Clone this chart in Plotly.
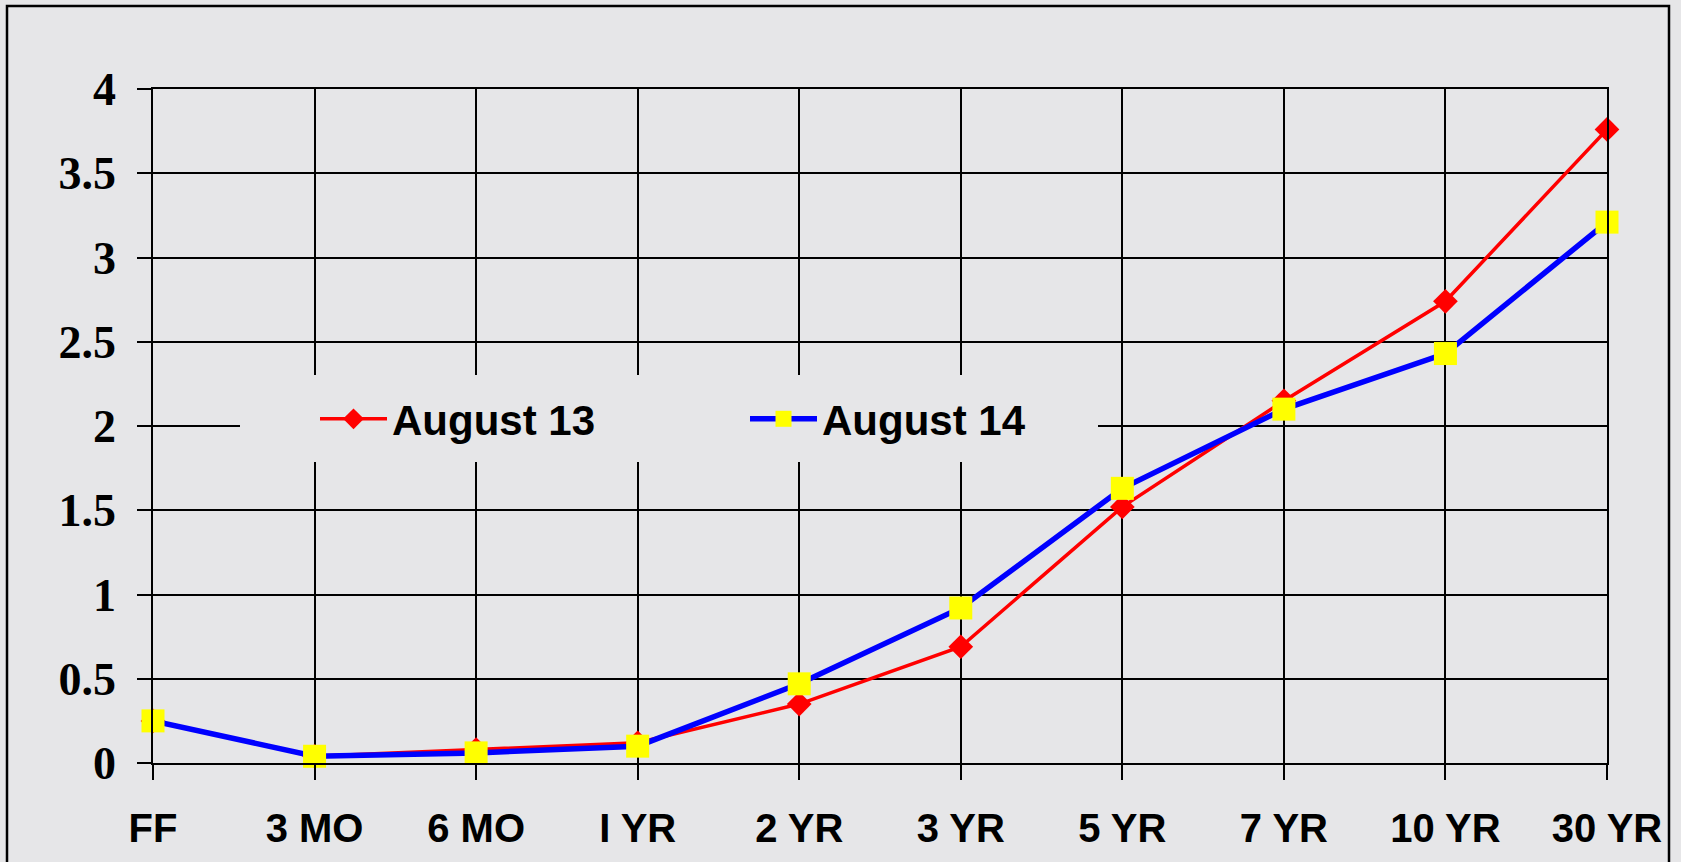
import plotly.graph_objects as go

# ---- data ----
maturities = ["FF", "3 MO", "6 MO", "I YR", "2 YR", "3 YR", "5 YR", "7 YR", "10 YR", "30 YR"]
aug13 = [0.25, 0.04, 0.08, 0.12, 0.35, 0.69, 1.52, 2.15, 2.74, 3.76]
aug14 = [0.25, 0.04, 0.06, 0.10, 0.47, 0.92, 1.63, 2.10, 2.43, 3.21]
y_ticks = [0, 0.5, 1, 1.5, 2, 2.5, 3, 3.5, 4]
y_tick_text = ["0", "0.5", "1", "1.5", "2", "2.5", "3", "3.5", "4"]
series_names = ["August 13", "August 14"]

BG = "#e6e6e8"

fig = go.Figure()
fig.add_trace(go.Scatter(
    x=maturities, y=aug13, name=series_names[0], mode="lines+markers",
    line=dict(color="#ff0000", width=3.5),
    marker=dict(symbol="diamond", size=19, color="#ff0000", line=dict(width=0)),
    cliponaxis=False,
))
fig.add_trace(go.Scatter(
    x=maturities, y=aug14, name=series_names[1], mode="lines+markers",
    line=dict(color="#0000ff", width=5.5),
    marker=dict(symbol="square", size=23, color="#ffff00", line=dict(width=0)),
    cliponaxis=False,
))

W, H = 1681, 862
L, R, T, B = 153, 1681 - 1607, 89, 862 - 763
pw, ph = W - L - R, H - T - B

def px(x):
    return (x - L) / pw

def py(y):
    return (H - B - y) / ph

shapes = [
    # legend mask box (hides gridlines behind the legend)
    dict(type="rect", xref="paper", yref="paper", layer="above",
         x0=px(240), x1=px(1098), y0=py(462), y1=py(375),
         fillcolor=BG, line=dict(width=0)),
    # outer frame
    dict(type="rect", xref="paper", yref="paper", layer="above",
         x0=px(7), x1=px(1669), y0=py(900), y1=py(6),
         fillcolor="rgba(0,0,0,0)", line=dict(color="#000", width=2.5)),
]

fig.update_layout(
    width=W, height=H,
    margin=dict(l=L, r=R, t=T, b=B, pad=0),
    paper_bgcolor=BG, plot_bgcolor=BG,
    showlegend=True,
    legend=dict(
        orientation="h", x=px(315), xanchor="left", y=py(419), yanchor="middle",
        bgcolor="rgba(0,0,0,0)", borderwidth=0,
        font=dict(family="Liberation Sans, Arial, sans-serif", size=42, color="#000", weight="bold"),
        itemwidth=67, entrywidth=348, entrywidthmode="pixels",
    ),
    shapes=shapes,
    xaxis=dict(
        type="category", range=[0, 9], categoryorder="array", categoryarray=maturities,
        showgrid=True, gridcolor="#000", gridwidth=1.5,
        showline=True, linecolor="#000", linewidth=1.5, mirror=True,
        ticks="outside", ticklen=15, tickwidth=1.5, tickcolor="#000",
        ticklabelstandoff=14,
        tickfont=dict(family="Liberation Sans, Arial, sans-serif", size=40, color="#000", weight="bold"),
        fixedrange=True,
    ),
    yaxis=dict(
        range=[0, 4], tickvals=y_ticks, ticktext=y_tick_text,
        showgrid=True, gridcolor="#000", gridwidth=1.5, zeroline=False,
        showline=True, linecolor="#000", linewidth=1.5, mirror=True,
        ticks="outside", ticklen=14, tickwidth=1.5, tickcolor="#000",
        ticklabelstandoff=12,
        tickfont=dict(family="Liberation Serif, Times New Roman, serif", size=46, color="#000", weight="bold"),
        fixedrange=True,
    ),
)

fig.write_html(
    "out.html",
    config={"displayModeBar": False},
    post_script="document.body.style.margin='0';document.body.style.overflow='hidden';",
)
